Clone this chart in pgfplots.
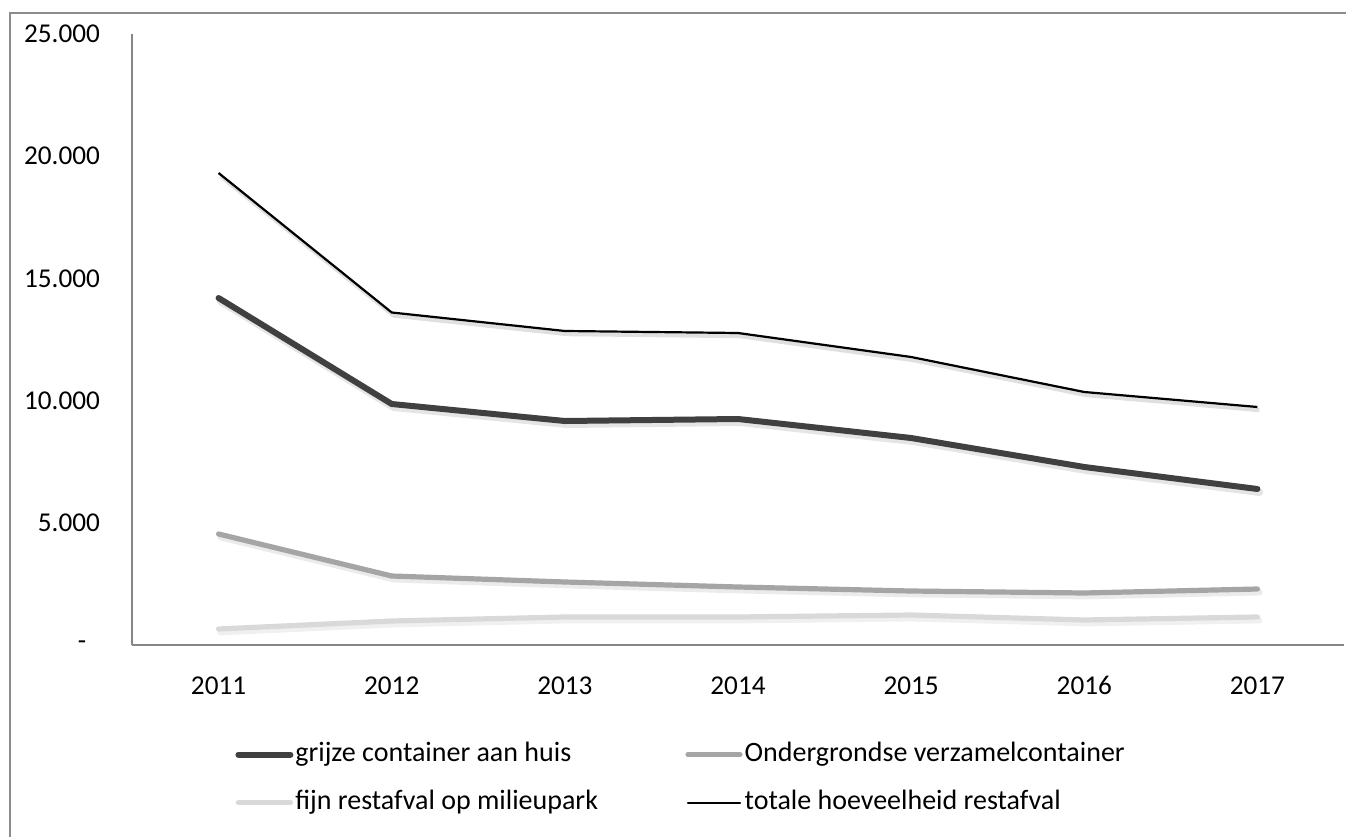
\documentclass[border=0pt]{standalone}
\usepackage{pgfplots}
\pgfplotsset{compat=1.18}
\usepackage{pgfplotstable}
\usepackage{fontspec}
\setmainfont{Carlito}
\definecolor{cDark}{HTML}{404040}
\definecolor{cMed}{HTML}{A5A5A5}
\definecolor{cLight}{HTML}{D9D9D9}
\definecolor{cAxis}{HTML}{868686}
\definecolor{cFrame}{HTML}{8C8C8C}
\pgfplotstableread{
x grijze onder fijn totaal
0 14198 4542 655 19313
1 9861 2823 982 13605
2 9165 2578 1146 12848
3 9247 2373 1146 12766
4 8470 2209 1227 11784
5 7283 2128 1023 10352
6 6383 2291 1146 9738
}\data
\newcommand{\fs}{\fontsize{13.6}{16}\selectfont}
\newcommand{\fl}{\fontsize{14}{17}\selectfont}
\begin{document}
\begin{tikzpicture}
\useasboundingbox (0,0) rectangle (673pt,418.5pt);
\fill[white] (0,0) rectangle (673pt,418.5pt);
\draw[cFrame, line width=1pt] (5pt,0) -- (5pt,412pt) -- (674pt,412pt);
\begin{axis}[
  at={(66pt,96pt)}, anchor=south west,
  scale only axis, width=606pt, height=305.5pt,
  xmin=-0.5, xmax=6.5, ymin=0, ymax=25000,
  scaled y ticks=false,
  axis x line*=bottom, axis y line*=left,
  axis line style={cAxis, line width=1.3pt, -},
  xtick={0,...,6}, xticklabels={2011,2012,2013,2014,2015,2016,2017},
  ytick={0,5000,10000,15000,20000,25000},
  yticklabels={{-\hphantom{0}},5.000,10.000,15.000,20.000,25.000},
  major tick length=0pt,
  tick label style={font=\fs, black},
  xticklabel style={yshift=-12pt, text height=9pt, text depth=0pt},
  yticklabel style={anchor=east, xshift=-12.5pt},
  clip=false,
  legend columns=2,
  legend style={draw=none, fill=none, inner sep=0pt, column sep=0pt, row sep=9.5pt,
    at={(0.085,-0.155)}, anchor=north west, font=\fl,
    nodes={inner sep=1pt, anchor=west, text height=9.5pt, text depth=3pt}},
  legend image code/.code={\draw[#1, line cap=round] (0pt,0pt) -- (26pt,0pt);},
]
\addplot[black, opacity=0.12, line width=2pt, xshift=1pt, yshift=-1.6pt, forget plot] table[x=x,y=totaal]{\data};
\addplot[black, opacity=0.10, line width=3.8pt, xshift=1pt, yshift=-1.6pt, forget plot, line cap=round] table[x=x,y=grijze]{\data};
\addplot[black, opacity=0.08, line width=3.2pt, xshift=1pt, yshift=-1.6pt, forget plot, line cap=round] table[x=x,y=onder]{\data};
\addplot[black, opacity=0.06, line width=3.2pt, xshift=1pt, yshift=-1.6pt, forget plot, line cap=round] table[x=x,y=fijn]{\data};
\addplot[cDark, line width=3pt, line cap=round, line join=round] table[x=x,y=grijze]{\data};
\addlegendentry{\makebox[194pt][l]{grijze container aan huis}}
\addplot[cMed, line width=2.6pt, line cap=round, line join=round] table[x=x,y=onder]{\data};
\addlegendentry{Ondergrondse verzamelcontainer}
\addplot[cLight, line width=2.6pt, line cap=round, line join=round] table[x=x,y=fijn]{\data};
\addlegendentry{\makebox[194pt][l]{fijn restafval op milieupark}}
\addplot[black, line width=1.1pt, line join=round] table[x=x,y=totaal]{\data};
\addlegendentry{totale hoeveelheid restafval}
\end{axis}
\end{tikzpicture}
\end{document}
